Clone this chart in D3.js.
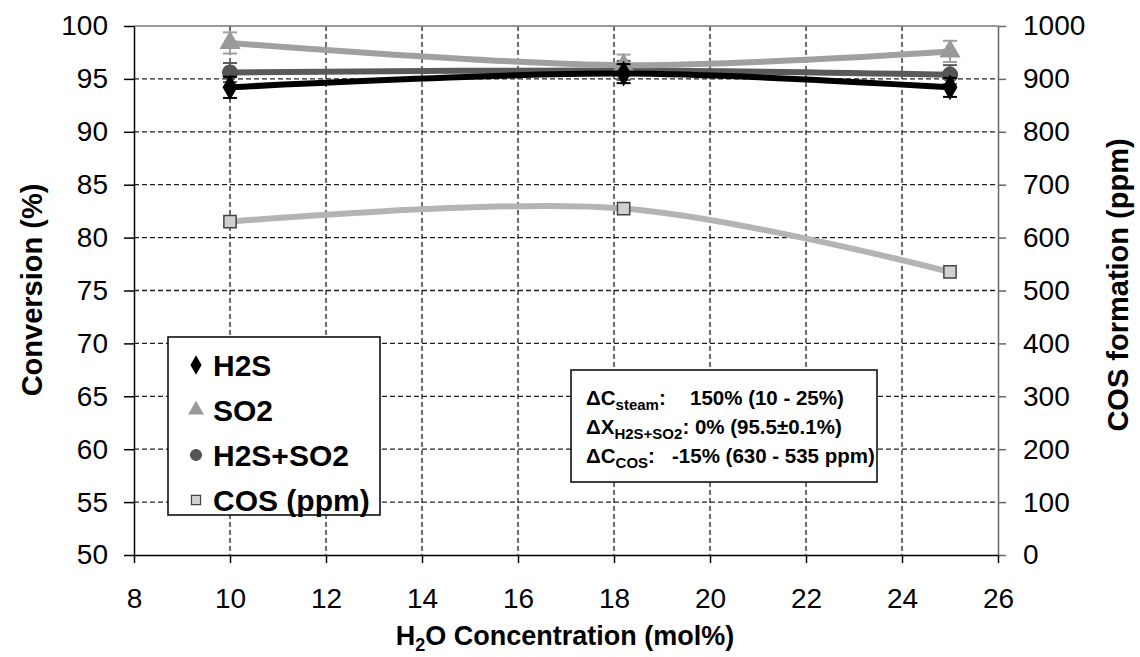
<!DOCTYPE html>
<html>
<head>
<meta charset="utf-8">
<script src="https://cdn.jsdelivr.net/npm/d3@7"></script>
<style>
  body { margin: 0; background: #fff; }
  text { font-family: "Liberation Sans", Arial, sans-serif; fill: #000; }
</style>
</head>
<body>
<svg id="chart"></svg>
<script>
// steam concentration runs (mol% H2O)
let steam = [10, 18.2, 25];

// conversion (%) with error bars
let h2s = [94.2, 95.5, 94.2];
let h2sErr = [1.0, 0.9, 0.9];
let so2 = [98.4, 96.3, 97.6];
let so2Err = [1.0, 1.0, 1.0];
let h2sSo2 = [95.6, 95.8, 95.4];
let h2sSo2Err = [0.9, 0.9, 0.9];

// COS formation (ppm), right axis
let cos = [630, 655, 535];

let xTicks = [8, 10, 12, 14, 16, 18, 20, 22, 24, 26];
let leftTicks = [50, 55, 60, 65, 70, 75, 80, 85, 90, 95, 100];
let rightTicks = [0, 100, 200, 300, 400, 500, 600, 700, 800, 900, 1000];

let width = 1140;
let height = 657;
let plot = { left: 134, right: 998, top: 26, bottom: 555 };

let svg = d3.select('#chart')
  .attr('width', width)
  .attr('height', height);

let xScale = d3.scaleLinear().domain([8, 26]).range([plot.left, plot.right]);
let yLeft = d3.scaleLinear().domain([50, 100]).range([plot.bottom, plot.top]);
let yRight = d3.scaleLinear().domain([0, 1000]).range([plot.bottom, plot.top]);

// dashed grid
let grid = svg.append('g');
grid.selectAll('.hgrid')
  .data(leftTicks.slice(1, -1))
  .enter()
  .append('line')
  .attr('x1', plot.left).attr('x2', plot.right)
  .attr('y1', d => yLeft(d)).attr('y2', d => yLeft(d))
  .attr('stroke', '#222').attr('stroke-width', 1.3)
  .attr('stroke-dasharray', '5,3');
grid.selectAll('.vgrid')
  .data(xTicks.slice(1, -1))
  .enter()
  .append('line')
  .attr('y1', plot.top).attr('y2', plot.bottom)
  .attr('x1', d => xScale(d)).attr('x2', d => xScale(d))
  .attr('stroke', '#222').attr('stroke-width', 1.3)
  .attr('stroke-dasharray', '5,3');

// top border
svg.append('line')
  .attr('x1', plot.left).attr('x2', plot.right)
  .attr('y1', plot.top).attr('y2', plot.top)
  .attr('stroke', '#777').attr('stroke-width', 1.5);

// axes
let styleAxis = (g, color) => {
  g.selectAll('path, line').attr('stroke', color).attr('stroke-width', 1.5);
  g.selectAll('text')
    .style('font-family', '"Liberation Sans", Arial, sans-serif')
    .style('font-size', '28px')
    .attr('fill', '#000');
};

svg.append('g')
  .attr('transform', 'translate(' + plot.left + ',0)')
  .call(d3.axisLeft(yLeft).tickValues(leftTicks).tickSize(10).tickSizeOuter(0).tickPadding(16))
  .call(g => styleAxis(g, '#000'));

svg.append('g')
  .attr('transform', 'translate(' + plot.right + ',0)')
  .call(d3.axisRight(yRight).tickValues(rightTicks).tickFormat(d3.format('d'))
    .tickSize(8).tickSizeOuter(0).tickPadding(17))
  .call(g => styleAxis(g, '#666'));

svg.append('g')
  .attr('transform', 'translate(0,' + plot.bottom + ')')
  .call(d3.axisBottom(xScale).tickValues(xTicks).tickSize(8).tickSizeOuter(0).tickPadding(25))
  .call(g => styleAxis(g, '#000'));

// axis titles
svg.append('text')
  .attr('transform', 'translate(42,290) rotate(-90)')
  .attr('text-anchor', 'middle')
  .style('font-size', '29px').style('font-weight', 'bold')
  .text('Conversion (%)');

svg.append('text')
  .attr('transform', 'translate(1128,285) rotate(-90)')
  .attr('text-anchor', 'middle')
  .style('font-size', '29px').style('font-weight', 'bold')
  .text('COS formation (ppm)');

let xTitle = svg.append('text')
  .attr('x', 565).attr('y', 645)
  .attr('text-anchor', 'middle')
  .style('font-size', '27px').style('font-weight', 'bold');
xTitle.append('tspan').text('H');
xTitle.append('tspan').attr('dy', 6).style('font-size', '18px').text('2');
xTitle.append('tspan').attr('dy', -6).text('O Concentration (mol%)');

// series definitions (legend order)
let series = [
  { name: 'H2S', values: h2s, err: h2sErr, y: yLeft, color: '#000', marker: 'diamond', mfill: '#000', mstroke: '#000' },
  { name: 'SO2', values: so2, err: so2Err, y: yLeft, color: '#a0a0a0', marker: 'triangle', mfill: '#999', mstroke: '#999' },
  { name: 'H2S+SO2', values: h2sSo2, err: h2sSo2Err, y: yLeft, color: '#5a5a5a', marker: 'circle', mfill: '#555', mstroke: '#555' },
  { name: 'COS (ppm)', values: cos, err: null, y: yRight, color: '#b4b4b4', marker: 'square', mfill: '#d0d0d0', mstroke: '#444' }
];

let symbolType = {
  square: d3.symbolSquare,
  triangle: d3.symbolTriangle,
  circle: d3.symbolCircle,
  diamond: d3.symbolDiamond
};
let symbolSize = { square: 150, triangle: 150, circle: 170, diamond: 150 };

let line = d3.line().curve(d3.curveCatmullRom.alpha(0.5));

// draw back to front so H2S ends on top
series.slice().reverse().forEach(s => {
  let pts = s.values.map((v, i) => [xScale(steam[i]), s.y(v)]);
  svg.append('path')
    .attr('d', line(pts))
    .attr('fill', 'none')
    .attr('stroke', s.color)
    .attr('stroke-width', 6);

  if (s.err) {
    let eb = svg.append('g').attr('stroke', s.color).attr('stroke-width', 2);
    s.values.forEach((v, i) => {
      let cx = xScale(steam[i]);
      let y1 = s.y(v + s.err[i]);
      let y2 = s.y(v - s.err[i]);
      eb.append('line').attr('x1', cx).attr('x2', cx).attr('y1', y1).attr('y2', y2);
      eb.append('line').attr('x1', cx - 7).attr('x2', cx + 7).attr('y1', y1).attr('y2', y1);
      eb.append('line').attr('x1', cx - 7).attr('x2', cx + 7).attr('y1', y2).attr('y2', y2);
    });
  }

  svg.selectAll(null)
    .data(pts)
    .enter()
    .append('path')
    .attr('transform', d => 'translate(' + d[0] + ',' + d[1] + ')')
    .attr('d', d3.symbol().type(symbolType[s.marker]).size(symbolSize[s.marker]))
    .attr('fill', s.mfill)
    .attr('stroke', s.mstroke)
    .attr('stroke-width', 1.5);
});

// legend
let legend = svg.append('g');
legend.append('rect')
  .attr('x', 168).attr('y', 337)
  .attr('width', 212).attr('height', 178)
  .attr('fill', '#fff')
  .attr('stroke', '#000').attr('stroke-width', 1.5);

series.forEach((s, i) => {
  let cy = 365 + i * 45;
  legend.append('path')
    .attr('transform', 'translate(196,' + cy + ')')
    .attr('d', d3.symbol().type(symbolType[s.marker]).size(symbolSize[s.marker] * 0.55))
    .attr('fill', s.mfill)
    .attr('stroke', s.mstroke)
    .attr('stroke-width', 1.2);
  legend.append('text')
    .attr('x', 213).attr('y', cy + 11)
    .style('font-size', '30px').style('font-weight', 'bold')
    .text(s.name);
});

// annotation box
let note = svg.append('g');
note.append('rect')
  .attr('x', 571).attr('y', 370)
  .attr('width', 306).attr('height', 112)
  .attr('fill', '#fff')
  .attr('stroke', '#000').attr('stroke-width', 1.5);

let noteLine = (y, main, sub, rest, valueX, value) => {
  let t = note.append('text')
    .attr('x', 586).attr('y', y)
    .style('font-size', '20.5px').style('font-weight', 'bold');
  t.append('tspan').text(main);
  t.append('tspan').attr('dy', 5).style('font-size', '15px').text(sub);
  t.append('tspan').attr('dy', -5).text(rest);
  if (value) {
    note.append('text')
      .attr('x', valueX).attr('y', y)
      .style('font-size', '20.5px').style('font-weight', 'bold')
      .text(value);
  }
};

noteLine(405, '\u0394C', 'steam', ':', 690, '150% (10 - 25%)');
noteLine(434, '\u0394X', 'H2S+SO2', ': 0% (95.5\u00b10.1%)', 0, null);
noteLine(463, '\u0394C', 'COS', ':', 672, '-15% (630 - 535 ppm)');
</script>
</body>
</html>
